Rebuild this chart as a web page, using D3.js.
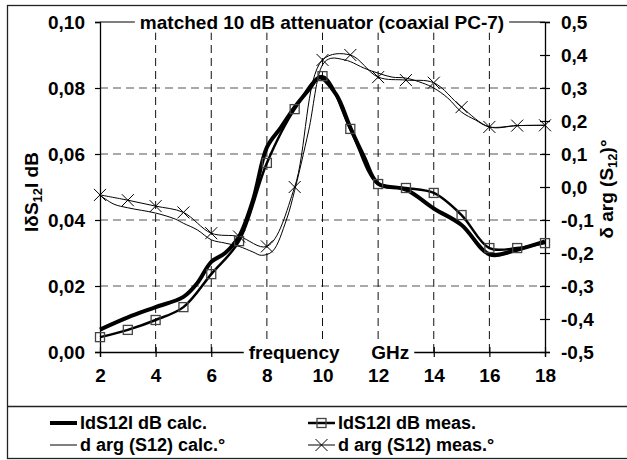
<!DOCTYPE html>
<html>
<head>
<meta charset="utf-8">
<script src="https://cdn.jsdelivr.net/npm/d3@7"></script>
<style>
  body { margin: 0; background: #fff; }
  svg text { font-family: "Liberation Sans", Arial, sans-serif; font-weight: bold; fill: #000; }
</style>
</head>
<body>
<div id="chart"></div>
<script>
// frequency grid, GHz
const freqTicks = [2, 4, 6, 8, 10, 12, 14, 16, 18];
const measFreq = [2, 3, 4, 5, 6, 7, 8, 9, 10, 11, 12, 13, 14, 15, 16, 17, 18];

// |dS12| dB calculated
const magCalcFreq = [2, 3, 4, 5, 5.5, 6, 6.5, 7, 7.5, 8, 8.5, 9, 9.5, 9.9, 10.5, 11, 11.5, 12, 13, 14, 15, 16, 17, 18];
const magCalc = [0.0068, 0.0105, 0.0136, 0.0167, 0.0209, 0.0273, 0.0300, 0.0350, 0.0460, 0.0620, 0.0680, 0.0742, 0.0794, 0.0832, 0.0779, 0.0680, 0.0590, 0.0510, 0.0492, 0.0435, 0.0385, 0.0296, 0.0310, 0.0335];

// |dS12| dB measured
const magMeas = [0.0045, 0.0067, 0.0097, 0.0136, 0.0236, 0.0336, 0.0573, 0.0736, 0.0836, 0.0676, 0.0509, 0.0497, 0.0482, 0.0415, 0.0315, 0.0315, 0.0330];

// d arg(S12) calculated, degrees
const argCalcFreq = [2, 2.5, 3, 4, 4.7, 5, 5.5, 6, 6.5, 7, 7.5, 7.8, 8.2, 8.7, 9, 9.5, 10, 10.3, 10.8, 11, 11.5, 12, 12.5, 13, 13.6, 14, 14.5, 15, 15.5, 16, 17, 18];
const argCalc = [-0.025, -0.052, -0.063, -0.079, -0.097, -0.110, -0.130, -0.160, -0.170, -0.180, -0.197, -0.207, -0.195, -0.100, -0.010, 0.170, 0.370, 0.390, 0.385, 0.380, 0.360, 0.345, 0.333, 0.330, 0.315, 0.300, 0.270, 0.227, 0.203, 0.182, 0.186, 0.187];

// d arg(S12) measured, degrees
const argMeas = [-0.024, -0.040, -0.058, -0.077, -0.140, -0.150, -0.180, 0.000, 0.385, 0.400, 0.333, 0.324, 0.316, 0.242, 0.182, 0.186, 0.187];

const leftTicks = [0, 0.02, 0.04, 0.06, 0.08, 0.10];
const rightTicks = [-0.5, -0.4, -0.3, -0.2, -0.1, 0, 0.1, 0.2, 0.3, 0.4, 0.5];

const titleText = 'matched 10 dB attenuator (coaxial PC-7)';
const legendItems = [
    {label: 'IdS12I dB calc.', kind: 'magCalc'},
    {label: 'IdS12I dB meas.', kind: 'magMeas'},
    {label: 'd arg (S12) calc.°', kind: 'argCalc'},
    {label: 'd arg (S12) meas.°', kind: 'argMeas'}
];

const W = 627, H = 460;
const plot = {left: 100, right: 545, top: 22, bottom: 352};
const fs = 19;

const svg = d3.select('#chart').append('svg')
    .attr('width', W)
    .attr('height', H);

const x = d3.scaleLinear().domain([2, 18]).range([plot.left, plot.right]);
const yL = d3.scaleLinear().domain([0, 0.10]).range([plot.bottom, plot.top]);
const yR = d3.scaleLinear().domain([-0.5, 0.5]).range([plot.bottom, plot.top]);
const comma = f => v => d3.format(f)(v).replace('.', ',').replace('−', '-');

// outer frame
svg.append('rect')
    .attr('x', 7.5).attr('y', 5.5)
    .attr('width', 640).attr('height', 453)
    .attr('fill', 'none').attr('stroke', '#222').attr('stroke-width', 1.3);
svg.append('line')
    .attr('x1', 7).attr('x2', W).attr('y1', 406.5).attr('y2', 406.5)
    .attr('stroke', '#222').attr('stroke-width', 1.3);

// gridlines
const grid = svg.append('g');
grid.selectAll('.hgrid')
    .data([0.02, 0.04, 0.06, 0.08])
    .join('line')
    .attr('x1', plot.left).attr('x2', plot.right)
    .attr('y1', d => yL(d)).attr('y2', d => yL(d))
    .attr('stroke', '#555').attr('stroke-width', 1.2)
    .attr('stroke-dasharray', '8,5');
grid.selectAll('.vgrid')
    .data(freqTicks.slice(1, -1))
    .join('line')
    .attr('x1', d => x(d)).attr('x2', d => x(d))
    .attr('y1', plot.bottom).attr('y2', plot.top)
    .attr('stroke', '#111').attr('stroke-width', 1)
    .attr('stroke-dasharray', '8,5');

// axes
const axL = svg.append('g')
    .attr('transform', `translate(${plot.left},0)`)
    .call(d3.axisLeft(yL).tickValues(leftTicks).tickSize(5).tickPadding(10).tickFormat(comma('.2f')));
const axR = svg.append('g')
    .attr('transform', `translate(${plot.right},0)`)
    .call(d3.axisRight(yR).tickValues(rightTicks).tickSize(5).tickPadding(11).tickFormat(comma('.1f')));
axR.selectAll('.tick line').attr('x1', -5);
const axB = svg.append('g')
    .attr('transform', `translate(0,${plot.bottom})`)
    .call(d3.axisBottom(x).tickValues(freqTicks).tickSize(5).tickPadding(12));
axB.selectAll('.tick line').attr('y1', -5);
// top edge
svg.append('line')
    .attr('x1', plot.left).attr('x2', plot.right)
    .attr('y1', plot.top).attr('y2', plot.top)
    .attr('stroke', '#000');

[axL, axR, axB].forEach(a => {
    a.selectAll('path.domain').attr('stroke', '#000').attr('stroke-width', 1.3);
    a.selectAll('.tick line').attr('stroke', '#000').attr('stroke-width', 1.2);
    a.selectAll('text').style('font-size', fs + 'px').attr('font-family', null);
});

// labels over the top and bottom edges, with white backing
function edgeLabel(txt, cx, cy) {
    const g = svg.append('g');
    const t = g.append('text')
        .attr('x', cx).attr('y', cy).attr('dy', '0.35em')
        .attr('text-anchor', 'middle')
        .style('font-size', fs + 'px')
        .style('white-space', 'pre')
        .text(txt);
    const b = t.node().getBBox();
    g.insert('rect', 'text')
        .attr('x', b.x - 5).attr('y', b.y)
        .attr('width', b.width + 10).attr('height', b.height)
        .attr('fill', '#fff');
}
edgeLabel(titleText, 322, plot.top);
edgeLabel('frequency      GHz', 329, plot.bottom);

// axis titles
const tL = svg.append('text')
    .attr('transform', `translate(38,192) rotate(-90)`)
    .attr('text-anchor', 'middle')
    .style('font-size', fs + 'px');
tL.append('tspan').text('lδS');
tL.append('tspan').attr('dy', 4).style('font-size', '13px').text('12');
tL.append('tspan').attr('dy', -4).text('l dB');

const tR = svg.append('text')
    .attr('transform', `translate(613,189) rotate(-90)`)
    .attr('text-anchor', 'middle')
    .style('font-size', fs + 'px');
tR.append('tspan').text('δ arg (S');
tR.append('tspan').attr('dy', 4).style('font-size', '13px').text('12');
tR.append('tspan').attr('dy', -4).text(')°');

// series
const lineL = d3.line().x(d => x(d[0])).y(d => yL(d[1])).curve(d3.curveCatmullRom.alpha(0.5));
const lineR = d3.line().x(d => x(d[0])).y(d => yR(d[1])).curve(d3.curveCatmullRom.alpha(0.5));

const series = svg.append('g');
series.append('path')
    .datum(d3.zip(argCalcFreq, argCalc))
    .attr('d', lineR)
    .attr('fill', 'none').attr('stroke', '#000').attr('stroke-width', 1);
series.append('path')
    .datum(d3.zip(measFreq, argMeas))
    .attr('d', lineR)
    .attr('fill', 'none').attr('stroke', '#000').attr('stroke-width', 1);
series.append('path')
    .datum(d3.zip(measFreq, magMeas))
    .attr('d', lineL)
    .attr('fill', 'none').attr('stroke', '#000').attr('stroke-width', 2.5);
series.append('path')
    .datum(d3.zip(magCalcFreq, magCalc))
    .attr('d', lineL)
    .attr('fill', 'none').attr('stroke', '#000').attr('stroke-width', 4);

const sq = 9, xs = 6;
series.selectAll('.sq')
    .data(d3.zip(measFreq, magMeas))
    .join('rect')
    .attr('x', d => x(d[0]) - sq / 2).attr('y', d => yL(d[1]) - sq / 2)
    .attr('width', sq).attr('height', sq)
    .attr('fill', 'none').attr('stroke', '#444').attr('stroke-width', 1.3);
series.selectAll('.xm')
    .data(d3.zip(measFreq, argMeas))
    .join('path')
    .attr('d', d => {
        const cx = x(d[0]), cy = yR(d[1]);
        return `M${cx - xs},${cy - xs}L${cx + xs},${cy + xs}M${cx - xs},${cy + xs}L${cx + xs},${cy - xs}`;
    })
    .attr('stroke', '#000').attr('stroke-width', 1);

// legend
const legCols = [50, 308], legRows = [423, 445], sampleW = 27;
const leg = svg.append('g');
legendItems.forEach((it, i) => {
    const lx = legCols[i % 2], ly = legRows[Math.floor(i / 2)];
    const sw = it.kind === 'magCalc' ? 4 : it.kind === 'magMeas' ? 2.5 : 1;
    leg.append('line')
        .attr('x1', lx).attr('x2', lx + sampleW)
        .attr('y1', ly).attr('y2', ly)
        .attr('stroke', '#000').attr('stroke-width', sw);
    const mx = lx + sampleW / 2;
    if (it.kind === 'magMeas') {
        leg.append('rect')
            .attr('x', mx - sq / 2).attr('y', ly - sq / 2)
            .attr('width', sq).attr('height', sq)
            .attr('fill', 'none').attr('stroke', '#444').attr('stroke-width', 1.3);
    } else if (it.kind === 'argMeas') {
        leg.append('path')
            .attr('d', `M${mx - xs},${ly - xs}L${mx + xs},${ly + xs}M${mx - xs},${ly + xs}L${mx + xs},${ly - xs}`)
            .attr('stroke', '#000');
    }
    leg.append('text')
        .attr('x', lx + sampleW + 3).attr('y', ly).attr('dy', '0.35em')
        .style('font-size', '18px')
        .text(it.label);
});
</script>
</body>
</html>
